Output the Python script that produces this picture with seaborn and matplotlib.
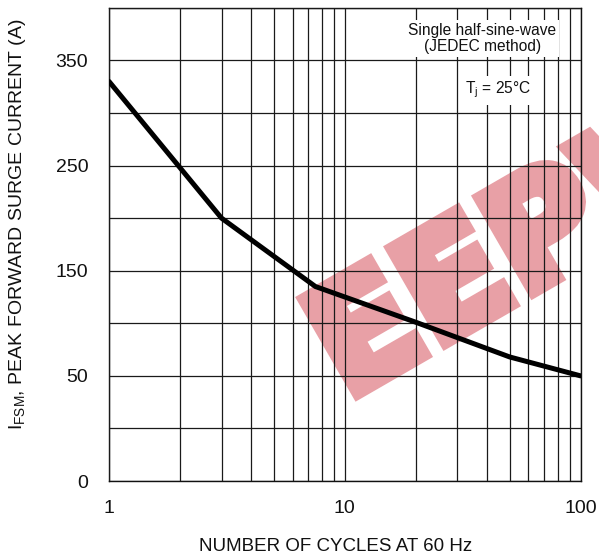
import matplotlib
matplotlib.use("Agg")
from matplotlib import pyplot as plt
from matplotlib import patheffects
from matplotlib.ticker import FixedLocator, LogLocator, MultipleLocator, NullFormatter
import pandas as pd
import seaborn as sns

# kurva odcitana z obrazku
cycles = [1, 3, 7.5, 20, 50, 100]
surge_current = [330, 200, 135, 101, 68, 50]

x_ticks = [1, 10, 100]
x_tick_labels = ["1", "10", "100"]
# popisky osy y tak, jak su v originali (spodna hodnota je oznacena "0")
y_ticks = [-50, 50, 150, 250, 350]
y_tick_labels = ["0", "50", "150", "250", "350"]

sns.set_style("white")
plt.rcParams["font.family"] = ["Liberation Sans", "DejaVu Sans"]
plt.rcParams["mathtext.default"] = "regular"

df = pd.DataFrame({"cycles": cycles, "current": surge_current})

fig = plt.figure(figsize=(5.99, 5.6), dpi=100)
ax = fig.add_axes([0.182, 0.141, 0.7874, 0.845])
# mriezka nad vodoznakom
ax.set_axisbelow(False)

sns.lineplot(data=df, x="cycles", y="current", ax=ax, color="black",
             linewidth=3.6, zorder=3)

ax.set_xscale("log")
ax.set_xlim(1, 100)
ax.set_ylim(-50, 400)

ax.xaxis.set_major_locator(FixedLocator(x_ticks))
ax.set_xticklabels(x_tick_labels)
ax.xaxis.set_minor_locator(LogLocator(base=10, subs=range(2, 10)))
ax.xaxis.set_minor_formatter(NullFormatter())
ax.yaxis.set_major_locator(FixedLocator(y_ticks))
ax.set_yticklabels(y_tick_labels)
ax.yaxis.set_minor_locator(MultipleLocator(50))

ax.grid(which="both", color="#1a1a1a", linewidth=0.9)
ax.tick_params(which="both", length=0, labelsize=14, colors="#111111")
ax.tick_params(axis="x", pad=14)
ax.tick_params(axis="y", pad=15)
for s in ax.spines.values():
    s.set_color("#111111")
    s.set_linewidth(1.0)

# popisky osi
ax.set_xlabel("NUMBER OF CYCLES AT 60 Hz", fontsize=13.5, color="#111111")
ax.xaxis.set_label_coords(0.481, -0.12)
ax.set_ylabel("I$_{FSM}$, PEAK FORWARD SURGE CURRENT (A)", fontsize=14,
              color="#111111")
ax.yaxis.set_label_coords(-0.172, 0.543)

# poznamky
ax.text(0.791, 0.936, "Single half-sine-wave\n(JEDEC method)",
        transform=ax.transAxes, ha="center", va="center", fontsize=11.2,
        linespacing=1.1, color="#111111", zorder=5,
        bbox=dict(facecolor="white", edgecolor="none", pad=2))
ax.text(0.825, 0.826, "T$_j$ = 25°C", transform=ax.transAxes,
        ha="center", va="center", fontsize=11.2, color="#111111", zorder=5,
        bbox=dict(facecolor="white", edgecolor="none", pad=3))

# vodoznak
wm_color = "#e8a0a6"
ax.text(346 / 599, 1 - 400 / 560, "EEPW", transform=fig.transFigure,
        rotation=30, rotation_mode="anchor", ha="left", va="baseline",
        fontsize=107, fontweight="heavy", family="DejaVu Sans",
        color=wm_color, zorder=2, clip_on=False,
        path_effects=[patheffects.withStroke(linewidth=9,
                                             foreground=wm_color,
                                             joinstyle="miter")])

fig.savefig("out.png", dpi=100)
plt.close()
